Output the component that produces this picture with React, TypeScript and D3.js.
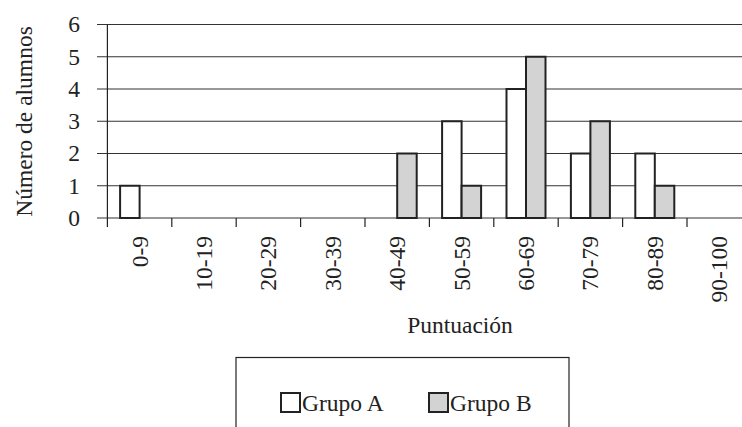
import React from "react";
import * as d3 from "d3";

const categories = ["0-9", "10-19", "20-29", "30-39", "40-49", "50-59", "60-69", "70-79", "80-89", "90-100"];
const grupoA = [1, 0, 0, 0, 0, 3, 4, 2, 2, 0];
const grupoB = [0, 0, 0, 0, 2, 1, 5, 3, 1, 0];
const yTicks = [0, 1, 2, 3, 4, 5, 6];
const seriesNames = ["Grupo A", "Grupo B"];
const seriesFills = ["#ffffff", "#d3d3d3"];

const W = 742;
const H = 427;
const FONT = "Liberation Serif, DejaVu Serif, serif";
const FS = 23.5;

export default function App() {
  const left = 107.4;
  const bandW = 64.4;
  const x = d3.scaleBand<string>().domain(categories).range([left, left + bandW * categories.length]);
  const y = d3.scaleLinear().domain([0, 6]).range([218, 24.5]);
  const barW = 19.5;
  const series = [grupoA, grupoB];
  const ts = { fontFamily: FONT, fontSize: FS, fill: "#222" } as React.CSSProperties;

  return (
    <svg width={W} height={H} style={{ position: "absolute", left: 0, top: 0, background: "#fff" }}>
      <rect x={0} y={0} width={W} height={H} fill="#fff" />
      {yTicks.map((t) => (
        <line key={"g" + t} x1={97} x2={W} y1={y(t)} y2={y(t)} stroke="#333" strokeWidth={1.2} />
      ))}
      {yTicks.map((t) => (
        <text key={"yl" + t} x={80} y={y(t)} dy="0.34em" textAnchor="end" style={ts}>
          {t}
        </text>
      ))}
      <line x1={left} x2={left} y1={y(6)} y2={227} stroke="#222" strokeWidth={1.2} />
      {categories.map((c) => (
        <line key={"xt" + c} x1={(x(c) as number) + bandW} x2={(x(c) as number) + bandW} y1={y(0)} y2={227} stroke="#222" strokeWidth={1.2} />
      ))}
      {series.map((s, si) =>
        s.map((v, i) => {
          if (v === 0) return null;
          const cx = (x(categories[i]) as number) + bandW / 2;
          const bx = si === 0 ? cx - barW : cx;
          return (
            <rect
              key={"b" + si + "-" + i}
              x={bx}
              y={y(v)}
              width={barW}
              height={y(0) - y(v)}
              fill={seriesFills[si]}
              stroke="#222"
              strokeWidth={2}
            />
          );
        })
      )}
      {categories.map((c) => {
        const cx = (x(c) as number) + bandW / 2;
        return (
          <text key={"xl" + c} transform={`translate(${cx},236) rotate(-90)`} dy="0.34em" textAnchor="end" style={ts}>
            {c}
          </text>
        );
      })}
      <text transform="translate(24,121.5) rotate(-90)" dy="0.34em" textAnchor="middle" style={ts}>
        Número de alumnos
      </text>
      <text x={460} y={333} textAnchor="middle" style={ts}>
        Puntuación
      </text>
      <rect x={236} y={357.5} width={333} height={100} fill="#fff" stroke="#222" strokeWidth={1.2} />
      {seriesNames.map((n, i) => {
        const lx = i === 0 ? 281 : 429;
        return (
          <g key={"lg" + n}>
            <rect x={lx} y={393} width={19} height={19} fill={seriesFills[i]} stroke="#222" strokeWidth={2} />
            <text x={lx + 21} y={411} style={ts}>
              {n}
            </text>
          </g>
        );
      })}
    </svg>
  );
}
